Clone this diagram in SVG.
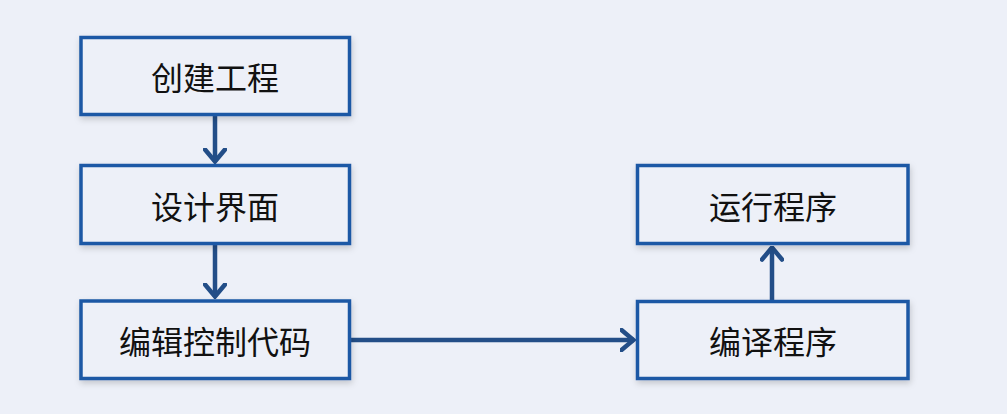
<svg xmlns="http://www.w3.org/2000/svg" width="1007" height="414" viewBox="0 0 1007 414">
<style>
.box{fill:#EDF0F8;stroke:#1E59A5;stroke-width:3.5;filter:url(#sh)}
.lbl{font-family:"Noto Sans CJK SC","Noto Sans",sans-serif;font-size:32px;fill:#111;text-anchor:middle;dominant-baseline:central}
.con{stroke:#234E88;stroke-width:4.5;fill:none}
</style>
<defs>
<filter id="sh" x="-10%" y="-20%" width="120%" height="150%">
<feDropShadow dx="1" dy="3" stdDeviation="3" flood-color="#000" flood-opacity="0.18"/>
</filter>
<marker id="arr" viewBox="0 0 16 24" refX="14.5" refY="12" markerWidth="16" markerHeight="24" markerUnits="userSpaceOnUse" orient="auto">
<path d="M2,2 L14,12 L2,22" fill="none" stroke="#234E88" stroke-width="4.5" stroke-linecap="round" stroke-linejoin="miter"/>
</marker>
</defs>
<rect width="1007" height="414" fill="#EDF0F8"/>
<g id="connectors">
<line class="con" x1="215" y1="116" x2="215" y2="162" marker-end="url(#arr)"/>
<line class="con" x1="215" y1="245" x2="215" y2="297" marker-end="url(#arr)"/>
<line class="con" x1="351" y1="340" x2="634" y2="340" marker-end="url(#arr)"/>
<line class="con" x1="772" y1="300" x2="772" y2="247" marker-end="url(#arr)"/>
</g>
<g id="n1"><rect class="box" x="81" y="37.5" width="268.5" height="77"/><text class="lbl" x="215" y="76">创建工程</text></g>
<g id="n2"><rect class="box" x="81" y="165.5" width="268.5" height="78"/><text class="lbl" x="215" y="205">设计界面</text></g>
<g id="n3"><rect class="box" x="81" y="301" width="268.5" height="77.5"/><text class="lbl" x="215" y="340">编辑控制代码</text></g>
<g id="n4"><rect class="box" x="637.5" y="165.5" width="270.5" height="78"/><text class="lbl" x="773" y="205">运行程序</text></g>
<g id="n5"><rect class="box" x="637.5" y="301.5" width="270.5" height="77"/><text class="lbl" x="773" y="340">编译程序</text></g>
</svg>
